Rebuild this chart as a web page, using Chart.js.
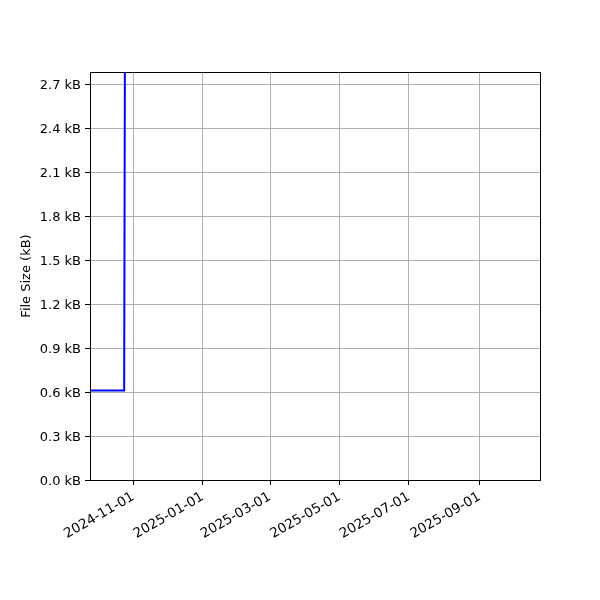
<!DOCTYPE html>
<html>
<head>
<meta charset="utf-8">
<script src="https://cdn.jsdelivr.net/npm/chart.js@4/dist/chart.umd.min.js"></script>
<style>html,body{margin:0;padding:0;background:#fff;}canvas{display:block;}</style>
</head>
<body>
<canvas id="c" width="600" height="600"></canvas>
<script>
const dates = ['2024-09-24', '2024-10-24', '2024-10-25'];
const sizesKB = [0.61, 0.61, 4.2];
const xTickDates = ['2024-11-01', '2025-01-01', '2025-03-01', '2025-05-01', '2025-07-01', '2025-09-01'];
const yTicks = [0.0, 0.3, 0.6, 0.9, 1.2, 1.5, 1.8, 2.1, 2.4, 2.7];
const xMinDate = '2024-09-24';
const xMaxDate = '2025-10-24';
const yMax = 2.782;

const ms = d => Date.parse(d + 'T00:00:00Z');
const pad2 = n => String(n).padStart(2, '0');
const fmt = v => { const d = new Date(v); return d.getUTCFullYear() + '-' + pad2(d.getUTCMonth() + 1) + '-' + pad2(d.getUTCDate()); };

const FONT = {family: 'DejaVu Sans', size: 13};
const XFONT = {family: 'DejaVu Sans', size: 13.5};

const frame = {
  id: 'frame',
  afterDraw(chart) {
    const a = chart.chartArea, ctx = chart.ctx;
    ctx.save();
    ctx.strokeStyle = '#000';
    ctx.lineWidth = 1;
    ctx.strokeRect(a.left + 0.5, a.top + 0.5, a.right - a.left, a.bottom - a.top);
    ctx.restore();
  }
};

new Chart(document.getElementById('c'), {
  type: 'line',
  data: {
    datasets: [{
      data: dates.map((d, i) => ({x: ms(d), y: sizesKB[i]})),
      borderColor: '#0000ff',
      borderWidth: 2,
      pointRadius: 0,
      tension: 0,
      fill: false
    }]
  },
  options: {
    responsive: false,
    animation: false,
    devicePixelRatio: 1,
    layout: {padding: {left: 0, right: 60, top: 72, bottom: 0}},
    plugins: {legend: {display: false}, tooltip: {enabled: false}},
    scales: {
      x: {
        type: 'linear',
        min: ms(xMinDate),
        max: ms(xMaxDate),
        afterBuildTicks: s => { s.ticks = xTickDates.map(d => ({value: ms(d)})); },
        afterFit: s => { s.height = 120; },
        ticks: {
          autoSkip: false,
          minRotation: 30,
          maxRotation: 30,
          padding: 4,
          color: '#000',
          font: XFONT,
          callback: v => fmt(v)
        },
        grid: {color: '#b0b0b0', lineWidth: 1, tickColor: '#000', tickLength: 5},
        border: {display: false}
      },
      y: {
        type: 'linear',
        min: 0,
        max: yMax,
        afterBuildTicks: s => { s.ticks = yTicks.map(v => ({value: v})); },
        afterFit: s => { s.width = 90; },
        ticks: {
          padding: 4,
          labelOffset: 2,
          color: '#000',
          font: FONT,
          callback: v => v.toFixed(1) + ' kB'
        },
        grid: {color: '#b0b0b0', lineWidth: 1, tickColor: '#000', tickLength: 5},
        border: {display: false},
        title: {display: true, text: 'File Size (kB)', color: '#000', font: FONT, padding: {top: 19, bottom: 0}}
      }
    }
  },
  plugins: [frame]
});
</script>
</body>
</html>
